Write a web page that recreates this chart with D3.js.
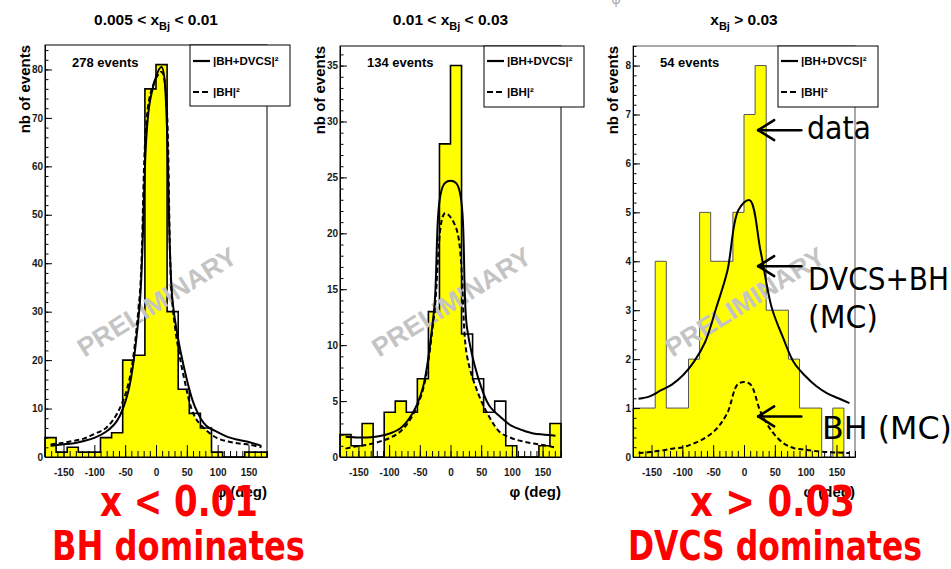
<!DOCTYPE html>
<html>
<head>
<meta charset="utf-8">
<script src="https://cdn.jsdelivr.net/npm/d3@7"></script>
<style>
  html, body { margin: 0; padding: 0; background: #fff; }
  svg { display: block; }
</style>
</head>
<body>
<svg id="chart" width="951" height="569"></svg>
<script>
// phi bins (deg): lower edges, 18 deg wide
var binLow = [-180, -162, -144, -126, -108, -90, -72, -54, -36, -18,
              0, 18, 36, 54, 72, 90, 108, 126, 144, 162];
var binWidth = 18;

// data, per x_Bj range
var counts1 = [4, 1, 2, 1, 1, 4, 5, 20, 21, 76, 81, 30, 14, 9, 6, 1, 0, 0, 1, 1];
var counts2 = [2, 1, 3, 0, 4, 5, 4, 7, 13, 28, 35, 11, 7, 4, 5, 1, 0, 0, 1, 3];
var counts3 = [1, 1, 4, 1, 1, 2, 5, 4, 4, 5, 7, 8, 3, 3, 2, 1, 1, 0, 1, 0];

// MC |BH+DVCS|^2 at bin centres
var full1 = [2.3, 2.6, 2.8, 3.3, 4.0, 5.2, 7.5, 13.5, 30.5, 74, 80.5, 32, 18.7, 10.4, 6.5, 5.2, 4.1, 3.5, 3.0, 2.3];
var full2 = [1.8, 1.75, 1.75, 1.85, 2.1, 2.6, 3.8, 6.2, 13, 24.5, 24.5, 11.5, 7.1, 4.6, 3.6, 2.8, 2.4, 2.1, 2.0, 1.9];
var full3 = [1.19, 1.24, 1.36, 1.48, 1.67, 1.95, 2.35, 3.05, 3.8, 5.05, 5.25, 4.2, 3.05, 2.45, 1.93, 1.66, 1.45, 1.3, 1.2, 1.1];

// MC |BH|^2 at bin centres
var bh1 = [2.6, 2.9, 3.3, 3.8, 4.8, 6.0, 9.0, 15, 32.5, 75, 79.5, 31, 16.6, 8.3, 5.6, 3.9, 3.2, 2.8, 2.5, 2.0];
var bh2 = [0.75, 0.95, 1.1, 1.35, 1.7, 2.3, 3.6, 6.0, 12.5, 21.8, 20.5, 9, 5.7, 3.6, 2.2, 1.7, 1.4, 1.2, 1.05, 0.85];
var bh3 = [0.08, 0.1, 0.13, 0.17, 0.2, 0.28, 0.39, 0.57, 0.9, 1.5, 1.5, 0.92, 0.53, 0.29, 0.18, 0.15, 0.12, 0.1, 0.09, 0.08];

var eventLabels = ['278 events', '134 events', '54 events'];
var titleLeft = ['0.005 < x', '0.01 < x', 'x'];
var titleRight = [' < 0.01', ' < 0.03', ' > 0.03'];
var legendLabels = ['|BH+DVCS|\u00b2', '|BH|\u00b2'];
var xMajor = [-150, -100, -50, 0, 50, 100, 150];

var FONT = '"Liberation Sans", Arial, sans-serif';
var HAND = '"DejaVu Sans", sans-serif';

var svg = d3.select('#chart');

var panels = [
  { left: 45, right: 267, top: 45, bottom: 457, counts: counts1, full: full1, bh: bh1,
    yStep: 10, yMinor: 2, clip: [18, 90], outline: '#000', outlineWidth: 1.6, frame: '#000' },
  { left: 340, right: 561, top: 46, bottom: 457, counts: counts2, full: full2, bh: bh2,
    yStep: 5, yMinor: 1, clip: [18, 90], outline: '#000', outlineWidth: 1.6, frame: '#000' },
  { left: 633, right: 855, top: 46, bottom: 457, counts: counts3, full: full3, bh: bh3,
    yStep: 1, yMinor: 0.2, clip: null, outline: '#555', outlineWidth: 1, frame: '#555' }
];

function stepsOf(counts) {
  var pts = [[binLow[0], 0]];
  counts.forEach(function (c, k) {
    pts.push([binLow[k], c]);
    pts.push([binLow[k] + binWidth, c]);
  });
  pts.push([binLow[binLow.length - 1] + binWidth, 0]);
  return pts;
}

function curveOf(vals) {
  return binLow.map(function (lo, k) { return [lo + binWidth / 2, vals[k]]; });
}

function ticksUpTo(max, step) {
  var n = Math.floor(max / step + 1e-9);
  return d3.range(0, n + 1).map(function (i) { return +(i * step).toFixed(4); });
}

function styleAxis(g, size) {
  g.select('.domain').attr('stroke', '#000').attr('stroke-width', 1);
  g.selectAll('.tick line').attr('stroke', '#000').attr('stroke-width', 1);
  g.selectAll('.tick text')
    .attr('font-family', FONT).attr('font-weight', 'bold')
    .attr('font-size', size).attr('fill', '#1a1a1a');
}

panels.forEach(function (p, i) {
  var x = d3.scaleLinear().domain([-180, 180]).range([p.left, p.right]);
  var ymax = d3.max(p.counts) * 1.05;
  var y = d3.scaleLinear().domain([0, ymax]).range([p.bottom, p.top]);
  var g = svg.append('g');

  var steps = stepsOf(p.counts);
  var bhPts = curveOf(p.bh);
  var fullPts = curveOf(p.full);

  var line = d3.line()
    .x(function (d) { return x(d[0]); })
    .y(function (d) { return y(d[1]); });
  var smooth = d3.line()
    .x(function (d) { return x(d[0]); })
    .y(function (d) { return y(d[1]); })
    .curve(d3.curveCatmullRom);

  // yellow fill (partly hidden above the BH curve on the right, as in the original)
  var fill = g.append('path').datum(steps)
    .attr('d', d3.area()
      .x(function (d) { return x(d[0]); })
      .y0(y(0))
      .y1(function (d) { return y(d[1]); }))
    .attr('fill', '#ffff00');
  if (p.clip) {
    var cp = svg.append('clipPath').attr('id', 'clip' + i);
    cp.append('rect').attr('x', p.left).attr('y', p.top)
      .attr('width', x(p.clip[0]) - p.left).attr('height', p.bottom - p.top);
    cp.append('rect').attr('x', x(p.clip[1])).attr('y', p.top)
      .attr('width', p.right - x(p.clip[1])).attr('height', p.bottom - p.top);
    cp.append('path').datum(bhPts)
      .attr('d', d3.area()
        .x(function (d) { return x(d[0]); })
        .y0(y(0))
        .y1(function (d) { return y(d[1]); })
        .curve(d3.curveCatmullRom));
    fill.attr('clip-path', 'url(#clip' + i + ')');
  }

  g.append('path').datum(steps)
    .attr('d', line)
    .attr('fill', 'none')
    .attr('stroke', p.outline)
    .attr('stroke-width', p.outlineWidth);

  // watermark
  g.append('text')
    .attr('transform', 'translate(' + ((p.left + p.right) / 2 + 1) + ',302) rotate(-32)')
    .attr('text-anchor', 'middle')
    .attr('dominant-baseline', 'central')
    .attr('font-family', FONT).attr('font-weight', 'bold').attr('font-size', 26)
    .attr('textLength', 182).attr('lengthAdjust', 'spacingAndGlyphs')
    .attr('fill', '#c4c4c4')
    .text('PRELIMINARY');

  // MC curves
  g.append('path').datum(bhPts)
    .attr('d', smooth)
    .attr('fill', 'none').attr('stroke', '#000')
    .attr('stroke-width', 2).attr('stroke-dasharray', '5,3');
  g.append('path').datum(fullPts)
    .attr('d', smooth)
    .attr('fill', 'none').attr('stroke', '#000')
    .attr('stroke-width', 2);

  // frame
  g.append('rect')
    .attr('x', p.left).attr('y', p.top)
    .attr('width', p.right - p.left).attr('height', p.bottom - p.top)
    .attr('fill', 'none').attr('stroke', p.frame).attr('stroke-width', 1);

  // axes
  var xMinor = d3.range(-180, 181, 10);
  var gxm = g.append('g').attr('transform', 'translate(0,' + p.bottom + ')')
    .call(d3.axisBottom(x).tickValues(xMinor).tickSize(-6).tickSizeOuter(0).tickFormat(''));
  styleAxis(gxm, 10);
  var gx = g.append('g').attr('transform', 'translate(0,' + p.bottom + ')')
    .call(d3.axisBottom(x).tickValues(xMajor).tickSize(-12).tickSizeOuter(0)
      .tickPadding(12).tickFormat(function (d) { return String(d); }));
  styleAxis(gx, 10);

  var gym = g.append('g').attr('transform', 'translate(' + p.left + ',0)')
    .call(d3.axisLeft(y).tickValues(ticksUpTo(ymax, p.yMinor)).tickSize(-3.5).tickSizeOuter(0).tickFormat(''));
  styleAxis(gym, 10);
  var gy = g.append('g').attr('transform', 'translate(' + p.left + ',0)')
    .call(d3.axisLeft(y).tickValues(ticksUpTo(ymax, p.yStep)).tickSize(-7).tickSizeOuter(0)
      .tickPadding(2).tickFormat(function (d) { return String(d); }));
  styleAxis(gy, 10);

  // axis titles
  g.append('text')
    .attr('transform', 'translate(' + (p.left - 15) + ',' + p.top + ') rotate(-90)')
    .attr('text-anchor', 'end')
    .attr('font-family', FONT).attr('font-weight', 'bold').attr('font-size', 15)
    .text('nb of events');
  g.append('text')
    .attr('x', p.right).attr('y', 497)
    .attr('text-anchor', 'end')
    .attr('font-family', FONT).attr('font-weight', 'bold').attr('font-size', 15)
    .text('\u03c6 (deg)');

  // events count
  g.append('text')
    .attr('x', p.left + 27).attr('y', 67)
    .attr('font-family', FONT).attr('font-weight', 'bold').attr('font-size', 13)
    .text(eventLabels[i]);

  // legend
  var lx = p.right - 77;
  var lg = g.append('g');
  lg.append('rect').attr('x', lx).attr('y', p.top).attr('width', 100).attr('height', 61)
    .attr('fill', '#fff').attr('stroke', '#000').attr('stroke-width', 1);
  [61, 92].forEach(function (ly, k) {
    lg.append('line')
      .attr('x1', lx + 3).attr('x2', lx + 20).attr('y1', ly).attr('y2', ly)
      .attr('stroke', '#000').attr('stroke-width', 2.2)
      .attr('stroke-dasharray', k === 1 ? '6,3' : null);
    lg.append('text')
      .attr('x', lx + 23).attr('y', ly + 4)
      .attr('font-family', FONT).attr('font-weight', 'bold').attr('font-size', 11.5)
      .text(legendLabels[k]);
  });

  // title
  var t = svg.append('text')
    .attr('x', (p.left + p.right) / 2).attr('y', 25)
    .attr('text-anchor', 'middle')
    .attr('font-family', FONT).attr('font-weight', 'bold').attr('font-size', 15.5);
  t.append('tspan').text(titleLeft[i]);
  t.append('tspan').attr('dy', 5).attr('font-size', 11).text('Bj');
  t.append('tspan').attr('dy', -5).text(titleRight[i]);

  p.x = x;
  p.y = y;
});

// cropped symbol at the very top
svg.append('text')
  .attr('x', 616).attr('y', 4)
  .attr('text-anchor', 'middle')
  .attr('font-family', FONT).attr('font-size', 14).attr('fill', '#aaa')
  .text('\u03c6');

// hand-drawn annotations on the right panel
var p3 = panels[2];
var arrowLevels = [6.68, 3.9, 0.83];
var arrowTip = 23, arrowTail = 93;
var ann = svg.append('g')
  .attr('stroke', '#000').attr('stroke-width', 2.5)
  .attr('stroke-linecap', 'round').attr('fill', 'none');
arrowLevels.forEach(function (v) {
  var tx = p3.x(arrowTip), ty = p3.y(v), ex = p3.x(arrowTail);
  ann.append('line').attr('x1', tx).attr('y1', ty).attr('x2', ex).attr('y2', ty);
  ann.append('line').attr('x1', tx).attr('y1', ty).attr('x2', tx + 16).attr('y2', ty - 10);
  ann.append('line').attr('x1', tx).attr('y1', ty).attr('x2', tx + 16).attr('y2', ty + 10);
});

var notes = [
  { text: 'data', x: 807, y: 139, len: 64 },
  { text: 'DVCS+BH', x: 808, y: 290, len: 141 },
  { text: '(MC)', x: 808, y: 328, len: 70 },
  { text: 'BH (MC)', x: 822, y: 439, len: 130 }
];
notes.forEach(function (n) {
  svg.append('text')
    .attr('x', n.x).attr('y', n.y)
    .attr('font-family', HAND).attr('font-size', 32)
    .attr('textLength', n.len).attr('lengthAdjust', 'spacingAndGlyphs')
    .attr('fill', '#000')
    .text(n.text);
});

var redNotes = [
  { text: 'x < 0.01', x: 100, y: 516, len: 158, size: 42 },
  { text: 'BH dominates', x: 52, y: 560, len: 253, size: 40 },
  { text: 'x > 0.03', x: 690, y: 516, len: 165, size: 42 },
  { text: 'DVCS dominates', x: 628, y: 560, len: 294, size: 40 }
];
redNotes.forEach(function (n) {
  svg.append('text')
    .attr('x', n.x).attr('y', n.y)
    .attr('font-family', HAND).attr('font-weight', 'bold').attr('font-size', n.size)
    .attr('textLength', n.len).attr('lengthAdjust', 'spacingAndGlyphs')
    .attr('fill', '#ff0000')
    .text(n.text);
});
</script>
</body>
</html>
